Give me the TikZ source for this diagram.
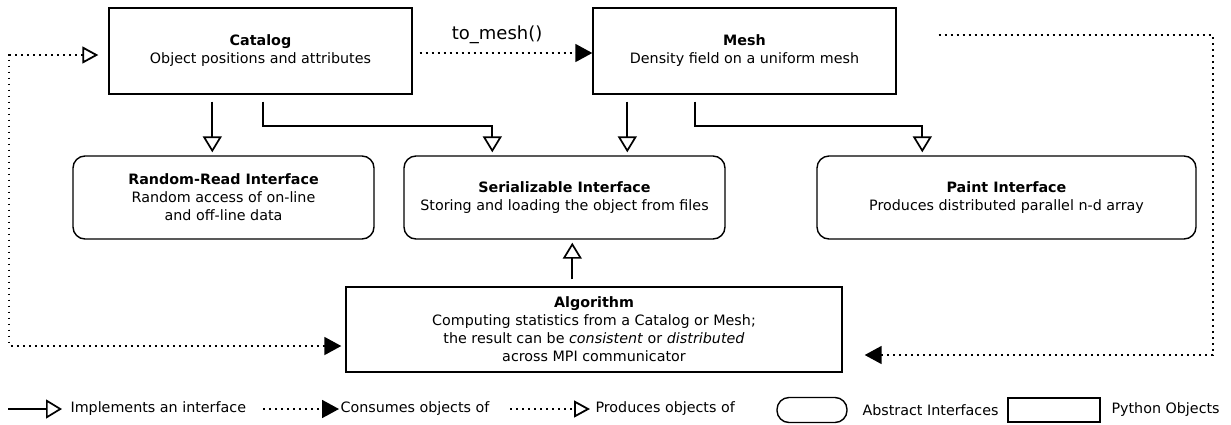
\documentclass[tikz,border=0pt]{standalone}
\usepackage{fontspec}
\setmainfont{DejaVu Sans}
\usepackage{tikz}
\usetikzlibrary{arrows.meta}

\tikzset{
	pyobj/.style={draw, line width=1.4pt, align=center, inner sep=0pt},
	iface/.style={draw, line width=1.4pt, rounded corners=12pt, align=center, inner sep=0pt},
	implements/.style={line width=1.7pt, -{Triangle[open, length=16pt, width=19pt]}},
	dots/.style={line width=1.8pt, dash pattern=on 1.8pt off 4.2pt},
	consumes/.style={dots, -{Triangle[length=17pt, width=18pt]}},
	produces/.style={dots, -{Triangle[open, length=16pt, width=17pt]}},
}

\begin{document}
\begin{tikzpicture}[x=1pt, y=-1pt, font=\fontsize{14.3}{18}\selectfont]
	\useasboundingbox (0,0) rectangle (1231,424);

	% python objects
	\node[pyobj, minimum width=303pt, minimum height=86pt] (catalog) at (260.5,51)
		{\textbf{Catalog}\\Object positions and attributes};
	\node[pyobj, minimum width=303pt, minimum height=86pt] (mesh) at (744.5,51)
		{\textbf{Mesh}\\Density field on a uniform mesh};
	\node[pyobj, minimum width=496pt, minimum height=85pt] (alg) at (594,329.5)
		{\textbf{Algorithm}\\Computing statistics from a Catalog or Mesh;\\
		 the result can be \textit{consistent} or \textit{distributed}\\across MPI communicator};

	% abstract interfaces
	\node[iface, minimum width=301pt, minimum height=83pt] (randread) at (223.5,197.5)
		{\textbf{Random-Read Interface}\\Random access of on-line\\and off-line data};
	\node[iface, minimum width=321pt, minimum height=83pt] (serial) at (564.5,197.5)
		{\textbf{Serializable Interface}\\Storing and loading the object from files};
	\node[iface, minimum width=379pt, minimum height=83pt] (paint) at (1006.5,197.5)
		{\textbf{Paint Interface}\\Produces distributed parallel n-d array};

	% implements
	\draw[implements, shorten <=7pt, shorten >=3pt]
		([xshift=104pt]catalog.south west) -- ([xshift=104pt]catalog.south west |- randread.north);
	\draw[implements, shorten <=7pt, shorten >=3pt]
		([xshift=155pt]catalog.south west) -- ++(0,31) -| ([xshift=89pt]serial.north west);
	\draw[implements, shorten <=7pt, shorten >=3pt]
		([xshift=35pt]mesh.south west) -- ([xshift=35pt]mesh.south west |- serial.north);
	\draw[implements, shorten <=7pt, shorten >=3pt]
		([xshift=103pt]mesh.south west) -- ++(0,31) -| ([xshift=106pt]paint.north west);
	\draw[implements, shorten <=7pt, shorten >=3pt]
		([xshift=227pt]alg.north west) -- ([xshift=227pt]alg.north west |- serial.south);

	% consumes / produces
	\draw[consumes, shorten <=7pt]
		([yshift=-2pt]catalog.east) -- ([yshift=-2pt]catalog.east -| mesh.west)
		node[pos=0.47, above=5pt, font=\fontsize{18}{20}\selectfont] (tomesh) {to\_mesh()};
	\draw[dots, {Triangle[open, length=16pt, width=17pt]}-{Triangle[length=17pt, width=18pt]},
		shorten <=10pt, shorten >=4pt]
		([yshift=-4pt]catalog.west) -- ++(-99,0) |- ([yshift=-16.5pt]alg.west);
	\coordinate (meshout) at ([xshift=42pt, yshift=16pt]mesh.east);
	\draw[consumes, shorten >=22pt]
		(meshout) -- ++(274,0) |- ([yshift=-25.5pt]alg.east);

	% legend
	\coordinate (impA) at (8,409);
	\coordinate (impB) at (62,409);
	\draw[implements] (impA) -- (impB);
	\node[anchor=west] (impT) at (67,409) {Implements an interface};

	\coordinate (conA) at (263,409);
	\coordinate (conB) at (339,409);
	\draw[consumes] (conA) -- (conB);
	\node[anchor=west] (conT) at (337,409) {Consumes objects of};

	\coordinate (proA) at (510,409);
	\coordinate (proB) at (590,409);
	\draw[produces] (proA) -- (proB);
	\node[anchor=west] (proT) at (592,409) {Produces objects of};

	\node[iface, minimum width=70pt, minimum height=25pt] (legiface) at (812,410) {};
	\node[anchor=west] (legifaceT) at (859,410) {Abstract Interfaces};
	\node[pyobj, minimum width=92pt, minimum height=24pt] (legobj) at (1054,410) {};
	\node[anchor=west] (legobjT) at (1108,410) {Python Objects};
\end{tikzpicture}
\end{document}
